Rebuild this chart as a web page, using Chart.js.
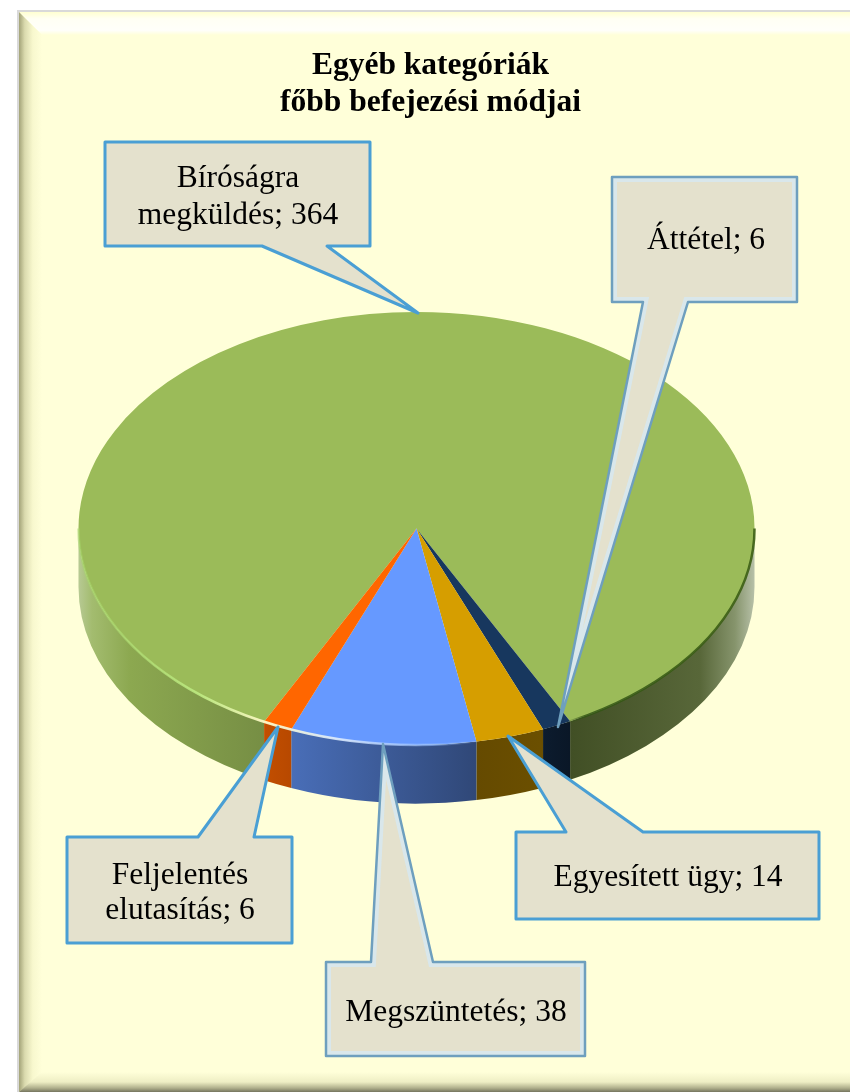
<!DOCTYPE html>
<html lang="hu">
<head>
<meta charset="utf-8">
<title>Egyéb kategóriák főbb befejezési módjai</title>
<script src="https://cdn.jsdelivr.net/npm/chart.js@4"></script>
<style>
html,body{margin:0;padding:0;background:#fff}
canvas{display:block}
</style>
</head>
<body>
<canvas id="c" width="850" height="1092"></canvas>
<script>
const titleLines = ['Egyéb kategóriák', 'főbb befejezési módjai'];
const categories = ['Bíróságra megküldés', 'Áttétel', 'Egyesített ügy', 'Megszüntetés', 'Feljelentés elutasítás'];
const values = [364, 6, 14, 38, 6];
const sliceColors = ['#9BBB59', '#17375E', '#D69E00', '#6699FF', '#FF6600'];
const startAngle = 206.8;

// Presentation of the tilted disc and the callouts
const CX = 416.5, CY = 528.5, RY = 216.5, DEPTH = 58.5;
const shadeStops = [[78,1.05,.5],[92,.98,.2],[130,.9,0],[265,.76,0],[290,.72,0],[475,.47,0],[541,.5,0],[570,.42,0],[700,.5,.08],[735,.62,.35],[756,.85,.75]];
const callouts = [
  {box:[105,142,370,246], side:'bottom', base:[327,262], tip:[418,313], text:[238,178,215], wrap:true},
  {box:[612,177,797,302], side:'bottom', base:[688,643], tip:[558,727], text:[706,240], soft:true},
  {box:[516,832,819,919], side:'top', base:[566,643], tip:[508,736], text:[668,877]},
  {box:[326,962,585,1056], side:'top', base:[371,433], tip:[383,744], text:[456,1012], soft:true},
  {box:[67,837,292,943], side:'top', base:[198,254], tip:[278,727], text:[180,875,910], wrap:true}
];
const labelFont = '31.5px "Liberation Serif"';

function rgb(hex){const n=parseInt(hex.slice(1),16);return [n>>16,(n>>8)&255,n&255];}
function sideFill(ctx,color){
  const g=ctx.createLinearGradient(78,0,756,0), c=rgb(color);
  shadeStops.forEach(([x,s,w])=>{
    const m=c.map((v,i)=>Math.round(Math.min(255,v*s)*(1-w)+[205,208,205][i]*w));
    g.addColorStop((x-78)/678,`rgb(${m.join(',')})`);
  });
  return g;
}
function drawFrame(ctx){
  ctx.fillStyle='#fff';ctx.fillRect(0,0,850,1092);
  ctx.fillStyle='#D9D9D9';ctx.fillRect(17,10,833,1082);
  ctx.fillStyle='#FFFFD9';ctx.fillRect(19,12,831,1080);
  const clipPoly=(pts,fn)=>{ctx.save();ctx.beginPath();pts.forEach((p,i)=>i?ctx.lineTo(p[0],p[1]):ctx.moveTo(p[0],p[1]));ctx.closePath();ctx.clip();fn();ctx.restore();};
  clipPoly([[19,12],[850,12],[850,35],[42,35]],()=>{
    const g=ctx.createLinearGradient(0,12,0,35);
    g.addColorStop(0,'#FFFFD0');g.addColorStop(.3,'#FFFFF4');g.addColorStop(.8,'#FFFFFA');g.addColorStop(1,'#FFFFD9');
    ctx.fillStyle=g;ctx.fillRect(19,12,831,23);
  });
  clipPoly([[19,12],[42,35],[42,1075],[19,1092]],()=>{
    const g=ctx.createLinearGradient(19,0,42,0);
    g.addColorStop(0,'#A3A378');g.addColorStop(.25,'#DADAAE');g.addColorStop(.6,'#F8F8CE');g.addColorStop(1,'#FFFFD9');
    ctx.fillStyle=g;ctx.fillRect(19,12,23,1080);
  });
  clipPoly([[19,1092],[42,1072],[850,1072],[850,1092]],()=>{
    const g=ctx.createLinearGradient(0,1072,0,1092);
    g.addColorStop(0,'#FFFFD9');g.addColorStop(.5,'#EEEEC4');g.addColorStop(.8,'#B0B08C');g.addColorStop(1,'#75755E');
    ctx.fillStyle=g;ctx.fillRect(19,1072,831,20);
  });
}
function drawSides(chart){
  const ctx=chart.ctx, RX=chart.getDatasetMeta(0).data[0].outerRadius;
  chart.getDatasetMeta(0).data.forEach((arc,i)=>{
    const segs=[];
    let a=arc.startAngle, b=arc.endAngle;
    for(let k=-1;k<=1;k++){
      const lo=Math.max(a,k*2*Math.PI), hi=Math.min(b,k*2*Math.PI+Math.PI);
      if(hi>lo) segs.push([lo,hi]);
    }
    segs.forEach(([lo,hi])=>{
      ctx.beginPath();
      ctx.ellipse(CX,CY,RX,RY,0,lo,hi);
      ctx.ellipse(CX,CY+DEPTH,RX,RY,0,hi,lo,true);
      ctx.closePath();
      ctx.fillStyle=sideFill(ctx,sliceColors[i]);
      ctx.fill();
    });
  });
}
function drawRim(chart){
  const ctx=chart.ctx, RX=chart.getDatasetMeta(0).data[0].outerRadius;
  const g=ctx.createLinearGradient(78,0,756,0);
  [[78,'rgba(165,215,105,.5)'],[200,'rgba(190,235,130,.9)'],[265,'rgba(255,250,200,.95)'],[340,'rgba(220,235,255,.9)'],[430,'rgba(150,190,255,.6)'],[480,'rgba(150,190,255,0)'],[565,'rgba(50,80,20,0)'],[585,'rgba(50,85,20,.85)'],[756,'rgba(60,95,20,.9)']]
    .forEach(([x,c])=>g.addColorStop((x-78)/678,c));
  ctx.save();
  ctx.strokeStyle=g;ctx.lineWidth=2.5;
  ctx.beginPath();ctx.ellipse(CX,CY,RX,RY,0,0,Math.PI);ctx.stroke();
  ctx.restore();
}
function calloutPath(ctx,c){
  const [l,t,r,b]=c.box;
  ctx.beginPath();
  ctx.moveTo(l,t);
  if(c.side==='top'){ctx.lineTo(c.base[0],t);ctx.lineTo(c.tip[0],c.tip[1]);ctx.lineTo(c.base[1],t);}
  ctx.lineTo(r,t);ctx.lineTo(r,b);
  if(c.side==='bottom'){ctx.lineTo(c.base[0],b);ctx.lineTo(c.tip[0],c.tip[1]);ctx.lineTo(c.base[1],b);}
  ctx.lineTo(l,b);ctx.closePath();
}
function drawCallouts(chart){
  const ctx=chart.ctx;
  callouts.forEach((c,i)=>{
    ctx.save();
    calloutPath(ctx,c);
    ctx.fillStyle='#E4E1CD';ctx.fill();
    if(c.soft){
      ctx.save();ctx.clip();ctx.strokeStyle='rgba(215,232,238,.9)';ctx.lineWidth=10;ctx.lineJoin='miter';ctx.stroke();ctx.restore();
      calloutPath(ctx,c);
      ctx.strokeStyle='#6E9FBE';ctx.lineWidth=2.5;
    }else{
      ctx.strokeStyle='#4A9FD4';ctx.lineWidth=3;
    }
    ctx.lineJoin='round';ctx.stroke();
    ctx.fillStyle='#000';ctx.font=labelFont;ctx.textAlign='center';ctx.textBaseline='middle';
    const label=categories[i]+'; '+values[i];
    let lines=[label];
    if(c.wrap){const k=label.indexOf(' ');lines=[label.slice(0,k),label.slice(k+1)];}
    lines.forEach((s,j)=>ctx.fillText(s,c.text[0],c.text[1+j]+1));
    ctx.restore();
  });
}
const tiltPlugin={
  id:'tilt',
  beforeDraw(chart){drawFrame(chart.ctx);},
  beforeDatasetsDraw(chart){
    drawSides(chart);
    const ctx=chart.ctx, arc=chart.getDatasetMeta(0).data[0];
    ctx.save();
    ctx.translate(CX,CY);
    ctx.scale(1,RY/arc.outerRadius);
    ctx.translate(-arc.x,-arc.y);
  },
  afterDatasetsDraw(chart){
    chart.ctx.restore();
    drawRim(chart);
  },
  afterDraw(chart){drawCallouts(chart);}
};
new Chart(document.getElementById('c'),{
  type:'pie',
  data:{labels:categories,datasets:[{data:values,backgroundColor:sliceColors,borderWidth:0,clip:false}]},
  options:{
    responsive:false,
    animation:false,
    rotation:startAngle,
    layout:{padding:{left:11,right:0,top:0,bottom:224}},
    plugins:{
      legend:{display:false},
      tooltip:{enabled:false},
      title:{display:true,text:titleLines,color:'#000',
        font:{family:'"Liberation Serif"',size:31.5,weight:'bold',lineHeight:1.19},
        padding:{top:47,bottom:70}}
    }
  },
  plugins:[tiltPlugin]
});
</script>
</body>
</html>
